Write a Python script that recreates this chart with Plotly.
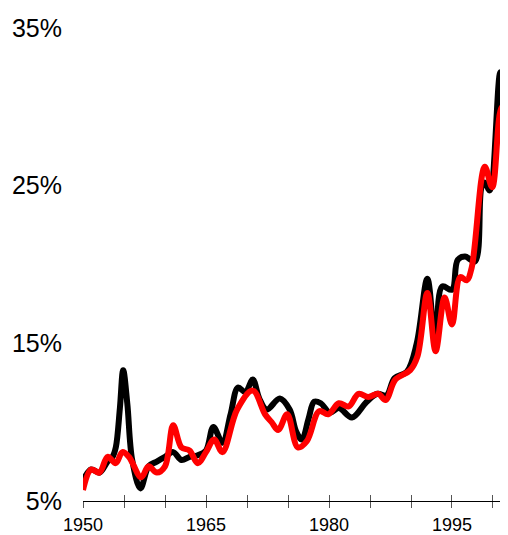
import plotly.graph_objects as go

black_years = [1950.0, 1951.0, 1952.0, 1953.0, 1953.6, 1954.0, 1954.5, 1954.9, 1955.4, 1956.0,
               1957.0, 1958.0, 1959.0, 1960.0, 1961.0, 1962.0, 1963.0, 1964.0, 1965.0, 1965.9,
               1967.0, 1968.0, 1968.9, 1969.8, 1970.7, 1971.5, 1972.4, 1974.0, 1975.2, 1976.0,
               1976.7, 1977.5, 1978.2, 1979.0, 1980.1, 1981.2, 1982.8, 1984.6, 1985.9, 1987.0,
               1988.0, 1989.5, 1990.7, 1992.0, 1993.0, 1993.8, 1995.0, 1995.7, 1996.6, 1997.8,
               1998.6, 1999.0, 1999.6, 2000.9, 2001.8]
black_values = [6.3, 7.0, 6.8, 7.5, 7.8, 8.4, 10.9, 13.3, 11.2, 7.6,
                5.8, 7.2, 7.5, 7.8, 8.1, 7.6, 7.8, 7.9, 8.2, 9.7,
                8.7, 10.5, 12.2, 11.9, 12.7, 11.5, 10.8, 11.5, 10.8, 9.4,
                8.9, 10.2, 11.3, 11.2, 10.6, 10.9, 10.3, 11.3, 11.8, 11.7,
                12.8, 13.2, 15.0, 19.1, 14.8, 18.6, 18.4, 20.3, 20.5, 20.2,
                24.9, 25.2, 24.7, 32.2, 27.1]

red_years = [1950.0, 1951.0, 1952.0, 1953.0, 1954.0, 1954.8, 1955.6, 1957.1, 1958.0, 1959.0,
             1960.0, 1961.0, 1962.0, 1963.0, 1964.0, 1965.0, 1966.0, 1967.0, 1968.8, 1970.7,
             1972.2, 1973.0, 1973.8, 1974.9, 1976.2, 1977.3, 1978.8, 1979.9, 1981.2, 1982.4,
             1983.6, 1984.8, 1986.0, 1986.9, 1988.1, 1989.9, 1990.8, 1992.0, 1993.0, 1994.1,
             1995.0, 1996.0, 1996.8, 1997.4, 1999.0, 1999.9, 2001.1, 2001.8]
red_values = [5.7, 7.0, 6.8, 7.8, 7.4, 8.1, 7.8, 6.5, 7.2, 6.8,
              7.2, 9.8, 8.4, 8.2, 7.4, 8.1, 8.9, 8.1, 10.8, 12.0,
              10.5, 10.0, 9.5, 10.5, 8.4, 8.8, 10.7, 10.5, 11.2, 11.0,
              11.8, 11.6, 11.8, 11.4, 12.7, 13.3, 14.2, 18.2, 14.5, 17.9,
              16.2, 19.2, 19.0, 19.8, 26.2, 24.9, 30.0, 29.6]

x_tick_vals = [1950, 1955, 1960, 1965, 1970, 1975, 1980, 1985, 1990, 1995, 2000]
x_tick_text = ["1950", "", "", "1965", "", "", "1980", "", "", "1995", ""]
y_tick_vals = [5, 15, 25, 35]
y_tick_text = ["5%", "15%", "25%", "35%"]

FONT = "Liberation Sans, Arial, sans-serif"

fig = go.Figure()
fig.add_trace(go.Scatter(x=black_years, y=black_values, mode="lines",
                         line=dict(color="black", width=6, shape="spline", smoothing=1.0),
                         showlegend=False, hoverinfo="skip"))
fig.add_trace(go.Scatter(x=red_years, y=red_values, mode="lines",
                         line=dict(color="#ff0000", width=6, shape="spline", smoothing=1.0),
                         showlegend=False, hoverinfo="skip"))
# invisible trace for second x axis (inside ticks)
fig.add_trace(go.Scatter(x=[1950], y=[5], mode="markers", marker=dict(opacity=0),
                         xaxis="x2", showlegend=False, hoverinfo="skip"))

xrange = [1950, 2001.83]
fig.update_layout(
    width=508, height=535,
    margin=dict(l=75, r=8, t=20, b=42),
    paper_bgcolor="white", plot_bgcolor="white",
    font=dict(family=FONT, color="black"),
    xaxis=dict(range=xrange, tickvals=x_tick_vals, ticktext=x_tick_text,
               ticks="outside", ticklen=6, tickwidth=1, tickcolor="#555555",
               showline=True, linecolor="black", linewidth=1, automargin=False,
               showgrid=False, zeroline=False, ticklabelstandoff=1,
               tickfont=dict(size=18, family=FONT, color="black")),
    xaxis2=dict(range=xrange, overlaying="x", anchor="y", side="bottom",
                tickvals=x_tick_vals, ticks="inside", ticklen=6, tickwidth=1,
                tickcolor="#555555", showticklabels=False, showgrid=False,
                zeroline=False, showline=False, automargin=False),
    yaxis=dict(range=[5, 35], tickvals=y_tick_vals, ticktext=y_tick_text,
               ticks="", showline=False, showgrid=False, zeroline=False,
               ticklabelstandoff=20, automargin=False,
               tickfont=dict(size=25, family=FONT, color="black")),
)

fig.write_html("out.html")
